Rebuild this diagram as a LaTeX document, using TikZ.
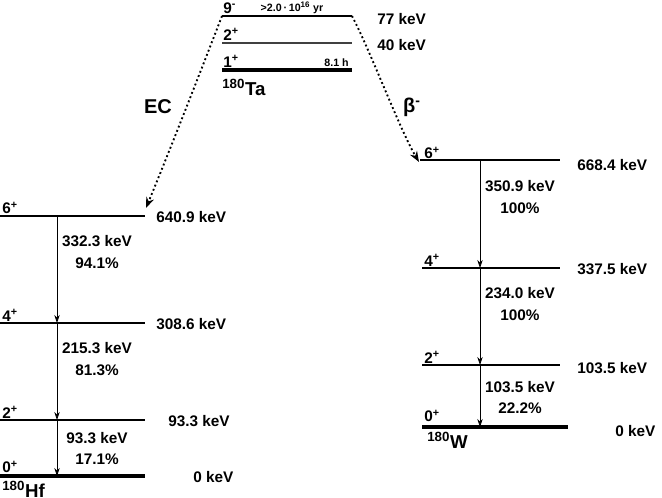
\documentclass[tikz,border=0pt]{standalone}
\usepackage{fontspec}
\setmainfont{Liberation Sans}
\usetikzlibrary{arrows.meta}
\begin{document}
\begin{tikzpicture}[x=0.75pt,y=-0.75pt,
  lvl/.style={line width=1pt},
  gnd/.style={line width=3pt},
  tx/.style={font=\bfseries\fontsize{11.5}{13}\selectfont,inner sep=0pt},
  big/.style={font=\bfseries\fontsize{14}{16}\selectfont,inner sep=0pt},
  sm/.style={font=\bfseries\fontsize{8}{9}\selectfont,inner sep=0pt},
  gam/.style={-{Stealth[length=6pt,width=4pt]},line width=0.5pt},
  dec/.style={dotted,line width=1.4pt,-{Stealth[length=8pt,width=6pt]}}]
\useasboundingbox (0,0) rectangle (662,498);
% Ta
\coordinate (ta9l) at (222,16); \coordinate (ta9r) at (352,16);
\draw[lvl] (ta9l) -- (ta9r);
\draw[line width=1pt,black!75] (222,43) -- (352,43);
\draw[gnd] (222,70) -- (352,70);
\node[tx,anchor=west] at (223,8) {9\textsuperscript{-}};
\node[sm] at (292,8) {>2.0\,·\,10\textsuperscript{16} yr};
\node[tx,anchor=west] at (223,34) {2\textsuperscript{+}};
\node[tx,anchor=west] at (223,61) {1\textsuperscript{+}};
\node[sm,anchor=east] at (349,63) {8.1 h};
\node[big,anchor=west] at (222,87) {\textsuperscript{\fontsize{10}{12}\selectfont 180}Ta};
\node[tx,anchor=west] at (377,19) {77 keV};
\node[tx,anchor=west] at (377,45) {40 keV};
% Hf
\draw[lvl] (0,216) -- (145,216);
\draw[lvl] (0,323) -- (145,323);
\draw[lvl] (0,420) -- (145,420);
\draw[gnd] (0,476) -- (145,476);
\coordinate (hf6) at (57,216); \coordinate (hf4) at (57,323);
\coordinate (hf2) at (57,420); \coordinate (hf0) at (57,476);
\coordinate (hfin) at (146,208);
\node[tx,anchor=west] at (2,208) {6\textsuperscript{+}};
\node[tx,anchor=west] at (2,315) {4\textsuperscript{+}};
\node[tx,anchor=west] at (2,412) {2\textsuperscript{+}};
\node[tx,anchor=west] at (2,467) {0\textsuperscript{+}};
\node[big,anchor=west] at (2,489) {\textsuperscript{\fontsize{10}{12}\selectfont 180}Hf};
\node[tx,anchor=west] at (156,217) {640.9 keV};
\node[tx,anchor=west] at (156,324) {308.6 keV};
\node[tx,anchor=west] at (168,421) {93.3 keV};
\node[tx,anchor=west] at (193,477) {0 keV};
\draw[gam] (hf6) -- (hf4);
\draw[gam] (hf4) -- (hf2);
\draw[gam] (hf2) -- (hf0);
\node[tx] at (97,241) {332.3 keV}; \node[tx] at (97,263) {94.1\%};
\node[tx] at (97,348) {215.3 keV}; \node[tx] at (97,370) {81.3\%};
\node[tx] at (97,438) {93.3 keV}; \node[tx] at (97,459) {17.1\%};
% W
\draw[lvl] (420,160) -- (560,160);
\draw[lvl] (422,268) -- (560,268);
\draw[lvl] (422,365) -- (560,365);
\draw[gnd] (422,427) -- (568,427);
\coordinate (w6) at (480,160); \coordinate (w4) at (480,268);
\coordinate (w2) at (480,365); \coordinate (w0) at (480,427);
\coordinate (win) at (419,162);
\node[tx,anchor=west] at (424,153) {6\textsuperscript{+}};
\node[tx,anchor=west] at (424,260) {4\textsuperscript{+}};
\node[tx,anchor=west] at (424,357) {2\textsuperscript{+}};
\node[tx,anchor=west] at (424,416) {0\textsuperscript{+}};
\node[big,anchor=west] at (427,440) {\textsuperscript{\fontsize{10}{12}\selectfont 180}W};
\node[tx,anchor=west] at (577,165) {668.4 keV};
\node[tx,anchor=west] at (577,269) {337.5 keV};
\node[tx,anchor=west] at (577,368) {103.5 keV};
\node[tx,anchor=west] at (615,431) {0 keV};
\draw[gam] (w6) -- (w4);
\draw[gam] (w4) -- (w2);
\draw[gam] (w2) -- (w0);
\node[tx] at (520,186) {350.9 keV}; \node[tx] at (520,208) {100\%};
\node[tx] at (520,293) {234.0 keV}; \node[tx] at (520,315) {100\%};
\node[tx] at (520,387) {103.5 keV}; \node[tx] at (520,408) {22.2\%};
% decays
\draw[dec] (ta9l) .. controls (205,60) and (170,150) .. (hfin);
\draw[dec] (ta9r) .. controls (370,50) and (400,130) .. (win);
\node[font=\bfseries\fontsize{15}{17}\selectfont] at (158,107) {EC};
\node[font=\bfseries\fontsize{15}{17}\selectfont] at (412,107) {β\textsuperscript{-}};
\end{tikzpicture}
\end{document}
